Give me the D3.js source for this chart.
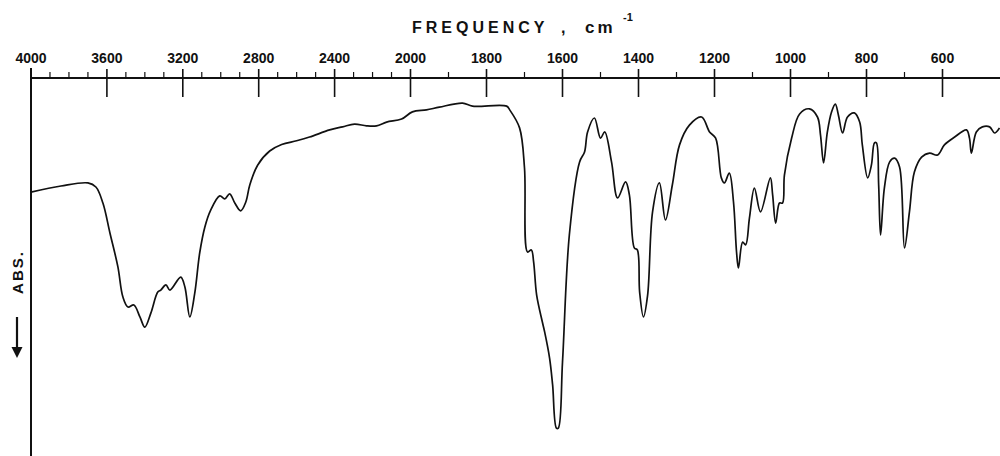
<!DOCTYPE html>
<html>
<head>
<meta charset="utf-8">
<script src="https://cdn.jsdelivr.net/npm/d3@7"></script>
<style>
  html, body { margin: 0; padding: 0; background: #fff; }
  svg { display: block; }
  text { font-family: "Liberation Sans", Arial, sans-serif; fill: #111; }
</style>
</head>
<body>
<svg id="chart" width="1000" height="456"></svg>
<script>
// Wavenumbers (cm-1), high to low
const wavenumbers = [
  4000, 3842, 3700, 3658, 3621, 3584, 3542, 3516, 3489, 3458, 3426, 3400, 3368, 3332, 3316,
  3289, 3268, 3211, 3189, 3163, 3137, 3111, 3084, 3053, 3005, 2979, 2953, 2926, 2895, 2868,
  2847, 2805, 2742, 2679, 2600, 2532, 2426, 2358, 2295, 2232, 2179, 2126, 2047, 1995, 1958,
  1924, 1863, 1837, 1747, 1739, 1713, 1700, 1692, 1682, 1676, 1668, 1653, 1647, 1634, 1626,
  1616, 1611, 1600, 1582, 1555, 1542, 1534, 1516, 1500, 1489, 1471, 1455, 1434, 1424, 1411,
  1403, 1397, 1387, 1376, 1363, 1345, 1329, 1311, 1292, 1266, 1234, 1213, 1197, 1182, 1174,
  1161, 1150, 1142, 1137, 1126, 1118, 1108, 1095, 1079, 1053, 1047, 1039, 1029, 1021, 1016,
  997, 976, 950, 929, 921, 913, 903, 892, 882, 874, 863, 850, 832, 818, 811,
  797, 787, 779, 774, 768, 763, 753, 739, 726, 713, 700, 687, 674, 655, 634,
  613, 595, 568, 537, 529, 524, 511, 495, 476, 463, 450
];
// Relative transmittance (arbitrary %, absorbance increases downward)
const transmittance = [
  72.9, 74.7, 75.6, 74.4, 69.7, 60.9, 50.9, 42.1, 39.1, 39.7, 36.2, 33.2, 37.4, 43.5, 44.1,
  45.6, 44.1, 47.9, 45.0, 36.2, 43.2, 55.0, 62.6, 67.6, 71.8, 70.9, 72.4, 69.7, 67.4, 70.0,
  75.0, 80.9, 85.0, 86.9, 88.0, 89.1, 91.2, 92.1, 92.9, 92.4, 92.4, 93.5, 94.4, 96.5, 97.1,
  97.9, 99.1, 98.2, 98.2, 97.1, 91.8, 80.0, 55.3, 55.9, 52.4, 42.6, 34.7, 31.8, 24.1, 16.2,
  3.5, 3.5, 22.9, 60.3, 81.8, 84.7, 90.6, 94.7, 88.8, 90.6, 81.8, 71.2, 75.9, 72.1, 56.5,
  55.9, 43.5, 36.2, 42.6, 67.1, 75.6, 64.7, 75.0, 86.8, 92.6, 95.0, 90.6, 88.8, 77.1, 75.6,
  78.5, 70.0, 55.3, 50.6, 58.2, 57.4, 65.3, 74.1, 67.1, 77.1, 72.1, 63.8, 69.7, 69.7, 77.9,
  88.8, 95.9, 97.4, 95.0, 89.7, 81.5, 90.6, 96.5, 98.8, 95.6, 90.3, 95.0, 96.2, 93.5, 86.8,
  77.1, 80.9, 87.4, 87.4, 75.0, 60.3, 74.1, 81.8, 82.9, 80.3, 56.5, 67.1, 78.8, 83.2, 84.4,
  83.8, 86.8, 89.1, 91.2, 88.8, 84.4, 90.6, 92.1, 92.1, 90.3, 91.8
];
const majorTicks = [4000, 3600, 3200, 2800, 2400, 2000, 1800, 1600, 1400, 1200, 1000, 800, 600];
const minorTicks = [3900, 3800, 3700, 3500, 3400, 3300, 3100, 3000, 2900, 2700, 2600, 2500,
  2300, 2200, 2100, 1900, 1700, 1500, 1300, 1100, 900, 700];
const axisTitle = "FREQUENCY";
const axisUnit = "cm";
const axisUnitSup = "-1";
const yLabel = "ABS.";

const svg = d3.select("#chart");
// Piecewise (scale change at 2000 cm-1) x scale
const x = d3.scaleLinear().domain([4000, 2000, 600]).range([31, 410.5, 942.5]);
const y = d3.scaleLinear().domain([0, 100]).range([440, 100]);
const axisY = 78;

// frame: top axis line and left line
svg.append("line").attr("x1", x(4000)).attr("x2", 1000).attr("y1", axisY).attr("y2", axisY)
  .attr("stroke", "#111").attr("stroke-width", 2);
svg.append("line").attr("x1", x(4000)).attr("x2", x(4000)).attr("y1", 68).attr("y2", 456)
  .attr("stroke", "#111").attr("stroke-width", 2);

// major ticks
svg.selectAll(".major").data(majorTicks).enter().append("line")
  .attr("x1", d => x(d)).attr("x2", d => x(d))
  .attr("y1", 69).attr("y2", 97)
  .attr("stroke", "#111").attr("stroke-width", 1.6);
// minor ticks
svg.selectAll(".minor").data(minorTicks).enter().append("line")
  .attr("x1", d => x(d)).attr("x2", d => x(d))
  .attr("y1", 72).attr("y2", axisY)
  .attr("stroke", "#111").attr("stroke-width", 1.2);
// tick labels
svg.selectAll(".lbl").data(majorTicks).enter().append("text")
  .attr("x", d => x(d)).attr("y", 63)
  .attr("text-anchor", "middle")
  .style("font-size", "14px").style("font-weight", "bold")
  .text(d => d);

// axis title
svg.append("text").attr("x", 412).attr("y", 33)
  .style("font-size", "16px").style("font-weight", "bold").style("letter-spacing", "4px")
  .text(axisTitle);
svg.append("text").attr("x", 561).attr("y", 33)
  .style("font-size", "16px").style("font-weight", "bold").text(",");
svg.append("text").attr("x", 585).attr("y", 33)
  .style("font-size", "17px").style("font-weight", "bold").style("letter-spacing", "3px")
  .text(axisUnit);
svg.append("text").attr("x", 623).attr("y", 21)
  .style("font-size", "11px").style("font-weight", "bold")
  .text(axisUnitSup);

// y label rotated with arrow
svg.append("text").attr("transform", "translate(23,272) rotate(-90)")
  .attr("text-anchor", "middle")
  .style("font-size", "15px").style("font-weight", "bold").style("letter-spacing", "2px")
  .text(yLabel);
svg.append("line").attr("x1", 17).attr("x2", 17).attr("y1", 317).attr("y2", 350)
  .attr("stroke", "#111").attr("stroke-width", 2.2);
svg.append("path").attr("d", "M11.5,347 L22.5,347 L17,358 Z").attr("fill", "#111");

// spectrum
const pts = wavenumbers.map((w, i) => [w, transmittance[i]]);
const line = d3.line().x(d => x(d[0])).y(d => y(d[1])).curve(d3.curveCatmullRom.alpha(0.5));
svg.append("path").datum(pts).attr("d", line)
  .attr("fill", "none").attr("stroke", "#111").attr("stroke-width", 1.7)
  .attr("stroke-linejoin", "round");
</script>
</body>
</html>
